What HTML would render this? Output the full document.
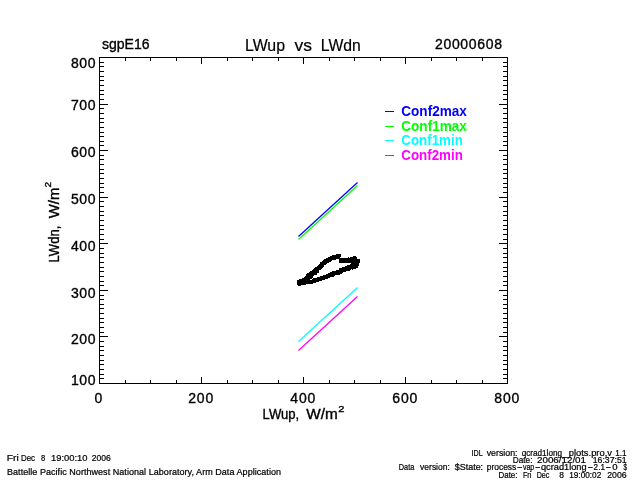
<!DOCTYPE html>
<html><head><meta charset="utf-8"><title>LWup vs LWdn</title>
<style>
html,body{margin:0;padding:0;background:#fff;}
body{width:640px;height:480px;overflow:hidden;}
svg{display:block;will-change:transform;}
svg text{font-family:'Liberation Sans',sans-serif;stroke-width:0.35px;}
</style></head><body>
<svg width="640" height="480" viewBox="0 0 640 480">
<rect x="0" y="0" width="640" height="480" fill="#fff"/>
<g shape-rendering="crispEdges">
<rect x="99" y="57" width="409" height="1" fill="#000"/>
<rect x="99" y="383" width="409" height="1" fill="#000"/>
<rect x="99" y="57" width="1" height="327" fill="#000"/>
<rect x="507" y="57" width="1" height="327" fill="#000"/>
<rect x="99" y="58" width="1" height="6" fill="#000"/>
<rect x="99" y="377" width="1" height="6" fill="#000"/>
<rect x="125" y="58" width="1" height="3" fill="#000"/>
<rect x="125" y="380" width="1" height="3" fill="#000"/>
<rect x="150" y="58" width="1" height="3" fill="#000"/>
<rect x="150" y="380" width="1" height="3" fill="#000"/>
<rect x="176" y="58" width="1" height="3" fill="#000"/>
<rect x="176" y="380" width="1" height="3" fill="#000"/>
<rect x="201" y="58" width="1" height="6" fill="#000"/>
<rect x="201" y="377" width="1" height="6" fill="#000"/>
<rect x="227" y="58" width="1" height="3" fill="#000"/>
<rect x="227" y="380" width="1" height="3" fill="#000"/>
<rect x="252" y="58" width="1" height="3" fill="#000"/>
<rect x="252" y="380" width="1" height="3" fill="#000"/>
<rect x="278" y="58" width="1" height="3" fill="#000"/>
<rect x="278" y="380" width="1" height="3" fill="#000"/>
<rect x="303" y="58" width="1" height="6" fill="#000"/>
<rect x="303" y="377" width="1" height="6" fill="#000"/>
<rect x="329" y="58" width="1" height="3" fill="#000"/>
<rect x="329" y="380" width="1" height="3" fill="#000"/>
<rect x="354" y="58" width="1" height="3" fill="#000"/>
<rect x="354" y="380" width="1" height="3" fill="#000"/>
<rect x="380" y="58" width="1" height="3" fill="#000"/>
<rect x="380" y="380" width="1" height="3" fill="#000"/>
<rect x="405" y="58" width="1" height="6" fill="#000"/>
<rect x="405" y="377" width="1" height="6" fill="#000"/>
<rect x="431" y="58" width="1" height="3" fill="#000"/>
<rect x="431" y="380" width="1" height="3" fill="#000"/>
<rect x="456" y="58" width="1" height="3" fill="#000"/>
<rect x="456" y="380" width="1" height="3" fill="#000"/>
<rect x="482" y="58" width="1" height="3" fill="#000"/>
<rect x="482" y="380" width="1" height="3" fill="#000"/>
<rect x="507" y="58" width="1" height="6" fill="#000"/>
<rect x="507" y="377" width="1" height="6" fill="#000"/>
<rect x="100" y="383" width="8" height="1" fill="#000"/>
<rect x="499" y="383" width="8" height="1" fill="#000"/>
<rect x="100" y="378" width="4" height="1" fill="#000"/>
<rect x="503" y="378" width="4" height="1" fill="#000"/>
<rect x="100" y="374" width="4" height="1" fill="#000"/>
<rect x="503" y="374" width="4" height="1" fill="#000"/>
<rect x="100" y="369" width="4" height="1" fill="#000"/>
<rect x="503" y="369" width="4" height="1" fill="#000"/>
<rect x="100" y="364" width="4" height="1" fill="#000"/>
<rect x="503" y="364" width="4" height="1" fill="#000"/>
<rect x="100" y="360" width="4" height="1" fill="#000"/>
<rect x="503" y="360" width="4" height="1" fill="#000"/>
<rect x="100" y="355" width="4" height="1" fill="#000"/>
<rect x="503" y="355" width="4" height="1" fill="#000"/>
<rect x="100" y="350" width="4" height="1" fill="#000"/>
<rect x="503" y="350" width="4" height="1" fill="#000"/>
<rect x="100" y="346" width="4" height="1" fill="#000"/>
<rect x="503" y="346" width="4" height="1" fill="#000"/>
<rect x="100" y="341" width="4" height="1" fill="#000"/>
<rect x="503" y="341" width="4" height="1" fill="#000"/>
<rect x="100" y="336" width="8" height="1" fill="#000"/>
<rect x="499" y="336" width="8" height="1" fill="#000"/>
<rect x="100" y="332" width="4" height="1" fill="#000"/>
<rect x="503" y="332" width="4" height="1" fill="#000"/>
<rect x="100" y="327" width="4" height="1" fill="#000"/>
<rect x="503" y="327" width="4" height="1" fill="#000"/>
<rect x="100" y="322" width="4" height="1" fill="#000"/>
<rect x="503" y="322" width="4" height="1" fill="#000"/>
<rect x="100" y="318" width="4" height="1" fill="#000"/>
<rect x="503" y="318" width="4" height="1" fill="#000"/>
<rect x="100" y="313" width="4" height="1" fill="#000"/>
<rect x="503" y="313" width="4" height="1" fill="#000"/>
<rect x="100" y="308" width="4" height="1" fill="#000"/>
<rect x="503" y="308" width="4" height="1" fill="#000"/>
<rect x="100" y="304" width="4" height="1" fill="#000"/>
<rect x="503" y="304" width="4" height="1" fill="#000"/>
<rect x="100" y="299" width="4" height="1" fill="#000"/>
<rect x="503" y="299" width="4" height="1" fill="#000"/>
<rect x="100" y="295" width="4" height="1" fill="#000"/>
<rect x="503" y="295" width="4" height="1" fill="#000"/>
<rect x="100" y="290" width="8" height="1" fill="#000"/>
<rect x="499" y="290" width="8" height="1" fill="#000"/>
<rect x="100" y="285" width="4" height="1" fill="#000"/>
<rect x="503" y="285" width="4" height="1" fill="#000"/>
<rect x="100" y="281" width="4" height="1" fill="#000"/>
<rect x="503" y="281" width="4" height="1" fill="#000"/>
<rect x="100" y="276" width="4" height="1" fill="#000"/>
<rect x="503" y="276" width="4" height="1" fill="#000"/>
<rect x="100" y="271" width="4" height="1" fill="#000"/>
<rect x="503" y="271" width="4" height="1" fill="#000"/>
<rect x="100" y="267" width="4" height="1" fill="#000"/>
<rect x="503" y="267" width="4" height="1" fill="#000"/>
<rect x="100" y="262" width="4" height="1" fill="#000"/>
<rect x="503" y="262" width="4" height="1" fill="#000"/>
<rect x="100" y="257" width="4" height="1" fill="#000"/>
<rect x="503" y="257" width="4" height="1" fill="#000"/>
<rect x="100" y="253" width="4" height="1" fill="#000"/>
<rect x="503" y="253" width="4" height="1" fill="#000"/>
<rect x="100" y="248" width="4" height="1" fill="#000"/>
<rect x="503" y="248" width="4" height="1" fill="#000"/>
<rect x="100" y="243" width="8" height="1" fill="#000"/>
<rect x="499" y="243" width="8" height="1" fill="#000"/>
<rect x="100" y="239" width="4" height="1" fill="#000"/>
<rect x="503" y="239" width="4" height="1" fill="#000"/>
<rect x="100" y="234" width="4" height="1" fill="#000"/>
<rect x="503" y="234" width="4" height="1" fill="#000"/>
<rect x="100" y="229" width="4" height="1" fill="#000"/>
<rect x="503" y="229" width="4" height="1" fill="#000"/>
<rect x="100" y="225" width="4" height="1" fill="#000"/>
<rect x="503" y="225" width="4" height="1" fill="#000"/>
<rect x="100" y="220" width="4" height="1" fill="#000"/>
<rect x="503" y="220" width="4" height="1" fill="#000"/>
<rect x="100" y="215" width="4" height="1" fill="#000"/>
<rect x="503" y="215" width="4" height="1" fill="#000"/>
<rect x="100" y="211" width="4" height="1" fill="#000"/>
<rect x="503" y="211" width="4" height="1" fill="#000"/>
<rect x="100" y="206" width="4" height="1" fill="#000"/>
<rect x="503" y="206" width="4" height="1" fill="#000"/>
<rect x="100" y="201" width="4" height="1" fill="#000"/>
<rect x="503" y="201" width="4" height="1" fill="#000"/>
<rect x="100" y="197" width="8" height="1" fill="#000"/>
<rect x="499" y="197" width="8" height="1" fill="#000"/>
<rect x="100" y="192" width="4" height="1" fill="#000"/>
<rect x="503" y="192" width="4" height="1" fill="#000"/>
<rect x="100" y="187" width="4" height="1" fill="#000"/>
<rect x="503" y="187" width="4" height="1" fill="#000"/>
<rect x="100" y="183" width="4" height="1" fill="#000"/>
<rect x="503" y="183" width="4" height="1" fill="#000"/>
<rect x="100" y="178" width="4" height="1" fill="#000"/>
<rect x="503" y="178" width="4" height="1" fill="#000"/>
<rect x="100" y="173" width="4" height="1" fill="#000"/>
<rect x="503" y="173" width="4" height="1" fill="#000"/>
<rect x="100" y="169" width="4" height="1" fill="#000"/>
<rect x="503" y="169" width="4" height="1" fill="#000"/>
<rect x="100" y="164" width="4" height="1" fill="#000"/>
<rect x="503" y="164" width="4" height="1" fill="#000"/>
<rect x="100" y="159" width="4" height="1" fill="#000"/>
<rect x="503" y="159" width="4" height="1" fill="#000"/>
<rect x="100" y="155" width="4" height="1" fill="#000"/>
<rect x="503" y="155" width="4" height="1" fill="#000"/>
<rect x="100" y="150" width="8" height="1" fill="#000"/>
<rect x="499" y="150" width="8" height="1" fill="#000"/>
<rect x="100" y="145" width="4" height="1" fill="#000"/>
<rect x="503" y="145" width="4" height="1" fill="#000"/>
<rect x="100" y="141" width="4" height="1" fill="#000"/>
<rect x="503" y="141" width="4" height="1" fill="#000"/>
<rect x="100" y="136" width="4" height="1" fill="#000"/>
<rect x="503" y="136" width="4" height="1" fill="#000"/>
<rect x="100" y="132" width="4" height="1" fill="#000"/>
<rect x="503" y="132" width="4" height="1" fill="#000"/>
<rect x="100" y="127" width="4" height="1" fill="#000"/>
<rect x="503" y="127" width="4" height="1" fill="#000"/>
<rect x="100" y="122" width="4" height="1" fill="#000"/>
<rect x="503" y="122" width="4" height="1" fill="#000"/>
<rect x="100" y="118" width="4" height="1" fill="#000"/>
<rect x="503" y="118" width="4" height="1" fill="#000"/>
<rect x="100" y="113" width="4" height="1" fill="#000"/>
<rect x="503" y="113" width="4" height="1" fill="#000"/>
<rect x="100" y="108" width="4" height="1" fill="#000"/>
<rect x="503" y="108" width="4" height="1" fill="#000"/>
<rect x="100" y="104" width="8" height="1" fill="#000"/>
<rect x="499" y="104" width="8" height="1" fill="#000"/>
<rect x="100" y="99" width="4" height="1" fill="#000"/>
<rect x="503" y="99" width="4" height="1" fill="#000"/>
<rect x="100" y="94" width="4" height="1" fill="#000"/>
<rect x="503" y="94" width="4" height="1" fill="#000"/>
<rect x="100" y="90" width="4" height="1" fill="#000"/>
<rect x="503" y="90" width="4" height="1" fill="#000"/>
<rect x="100" y="85" width="4" height="1" fill="#000"/>
<rect x="503" y="85" width="4" height="1" fill="#000"/>
<rect x="100" y="80" width="4" height="1" fill="#000"/>
<rect x="503" y="80" width="4" height="1" fill="#000"/>
<rect x="100" y="76" width="4" height="1" fill="#000"/>
<rect x="503" y="76" width="4" height="1" fill="#000"/>
<rect x="100" y="71" width="4" height="1" fill="#000"/>
<rect x="503" y="71" width="4" height="1" fill="#000"/>
<rect x="100" y="66" width="4" height="1" fill="#000"/>
<rect x="503" y="66" width="4" height="1" fill="#000"/>
<rect x="100" y="62" width="4" height="1" fill="#000"/>
<rect x="503" y="62" width="4" height="1" fill="#000"/>
<rect x="100" y="57" width="8" height="1" fill="#000"/>
<rect x="499" y="57" width="8" height="1" fill="#000"/>
<rect x="385" y="111" width="9" height="1" fill="#0000ff"/>
<rect x="385" y="126" width="9" height="1" fill="#00ff00"/>
<rect x="385" y="140" width="9" height="1" fill="#00ffff"/>
<rect x="385" y="155" width="9" height="1" fill="#ff00ff"/>
</g>
<g>
<line x1="298.5" y1="236.5" x2="357.5" y2="182.5" stroke="#0000ff" stroke-width="1.25" stroke-linecap="butt"/>
<line x1="298.5" y1="239.5" x2="357.5" y2="185.5" stroke="#00ff00" stroke-width="1.25" stroke-linecap="butt"/>
<line x1="298.5" y1="341.5" x2="357.5" y2="287.5" stroke="#00ffff" stroke-width="1.25" stroke-linecap="butt"/>
<line x1="298.5" y1="350.5" x2="357.5" y2="296.5" stroke="#ff00ff" stroke-width="1.25" stroke-linecap="butt"/>
</g>
<path fill="#000" shape-rendering="crispEdges" d="M297 280h1v5h-1zM298 280h1v6h-1zM299 279h1v7h-1zM300 279h1v7h-1zM301 279h1v6h-1zM302 278h1v7h-1zM303 278h1v7h-1zM304 277h1v8h-1zM305 276h1v9h-1zM306 274h1v10h-1zM307 273h1v11h-1zM308 273h1v11h-1zM309 272h1v12h-1zM310 271h1v8h-1zM310 280h1v4h-1zM311 271h1v8h-1zM311 280h1v4h-1zM312 270h1v8h-1zM312 279h1v5h-1zM313 269h1v7h-1zM313 278h1v5h-1zM314 268h1v7h-1zM314 278h1v5h-1zM315 267h1v8h-1zM315 278h1v5h-1zM316 267h1v8h-1zM316 278h1v4h-1zM317 266h1v7h-1zM317 277h1v5h-1zM318 265h1v8h-1zM318 277h1v5h-1zM319 264h1v6h-1zM319 277h1v4h-1zM320 262h1v8h-1zM320 276h1v5h-1zM321 262h1v7h-1zM321 276h1v5h-1zM322 261h1v7h-1zM322 276h1v4h-1zM323 260h1v7h-1zM323 275h1v5h-1zM324 259h1v6h-1zM324 275h1v5h-1zM325 259h1v6h-1zM325 275h1v4h-1zM326 258h1v6h-1zM326 274h1v5h-1zM327 258h1v5h-1zM327 274h1v5h-1zM328 257h1v6h-1zM328 273h1v5h-1zM329 257h1v5h-1zM329 273h1v5h-1zM330 256h1v6h-1zM330 272h1v5h-1zM331 256h1v5h-1zM331 272h1v5h-1zM332 255h1v5h-1zM332 271h1v6h-1zM333 255h1v5h-1zM333 271h1v6h-1zM334 255h1v5h-1zM334 271h1v5h-1zM335 255h1v5h-1zM335 271h1v4h-1zM336 254h1v5h-1zM336 270h1v5h-1zM337 254h1v5h-1zM337 270h1v5h-1zM338 254h1v5h-1zM338 270h1v5h-1zM339 254h1v9h-1zM339 268h1v7h-1zM340 254h1v3h-1zM340 258h1v5h-1zM340 268h1v6h-1zM341 258h1v5h-1zM341 268h1v6h-1zM342 258h1v5h-1zM342 267h1v6h-1zM343 258h1v5h-1zM343 267h1v5h-1zM344 258h1v5h-1zM344 267h1v5h-1zM345 258h1v5h-1zM345 266h1v6h-1zM346 258h1v5h-1zM346 266h1v5h-1zM347 258h1v5h-1zM347 265h1v6h-1zM348 257h1v6h-1zM348 265h1v6h-1zM349 258h1v5h-1zM349 265h1v6h-1zM350 257h1v6h-1zM350 264h1v6h-1zM351 257h1v12h-1zM352 257h1v13h-1zM353 256h1v13h-1zM354 256h1v13h-1zM355 256h1v13h-1zM356 257h1v11h-1zM357 259h1v9h-1zM358 259h1v7h-1zM359 259h1v4h-1z"/>
<g>
<text x="102" y="49" font-size="14" text-anchor="start" fill="#000" stroke="#000" font-weight="normal" textLength="47.5" lengthAdjust="spacing">sgpE16</text>
<text y="50.8" font-size="17" stroke="#000" style="stroke-width:0.2px"><tspan x="245" textLength="40" lengthAdjust="spacingAndGlyphs">LWup</tspan> <tspan x="294.5" textLength="17.5" lengthAdjust="spacingAndGlyphs">vs</tspan> <tspan x="320.8" textLength="40" lengthAdjust="spacingAndGlyphs">LWdn</tspan></text>
<text x="435" y="49" font-size="14" text-anchor="start" fill="#000" stroke="#000" font-weight="normal" textLength="67" lengthAdjust="spacing">20000608</text>
<text x="71" y="68" font-size="14" text-anchor="start" fill="#000" stroke="#000" font-weight="normal" textLength="24.5" lengthAdjust="spacing">800</text>
<text x="71" y="110" font-size="14" text-anchor="start" fill="#000" stroke="#000" font-weight="normal" textLength="24.5" lengthAdjust="spacing">700</text>
<text x="71" y="157" font-size="14" text-anchor="start" fill="#000" stroke="#000" font-weight="normal" textLength="24.5" lengthAdjust="spacing">600</text>
<text x="71" y="204" font-size="14" text-anchor="start" fill="#000" stroke="#000" font-weight="normal" textLength="24.5" lengthAdjust="spacing">500</text>
<text x="71" y="251" font-size="14" text-anchor="start" fill="#000" stroke="#000" font-weight="normal" textLength="24.5" lengthAdjust="spacing">400</text>
<text x="71" y="297.5" font-size="14" text-anchor="start" fill="#000" stroke="#000" font-weight="normal" textLength="24.5" lengthAdjust="spacing">300</text>
<text x="71" y="344" font-size="14" text-anchor="start" fill="#000" stroke="#000" font-weight="normal" textLength="24.5" lengthAdjust="spacing">200</text>
<text x="71" y="384.6" font-size="14" text-anchor="start" fill="#000" stroke="#000" font-weight="normal" textLength="24.5" lengthAdjust="spacing">100</text>
<text x="94.5" y="403" font-size="14" text-anchor="start" fill="#000" stroke="#000" font-weight="normal">0</text>
<text x="188.2" y="403" font-size="14" text-anchor="start" fill="#000" stroke="#000" font-weight="normal" textLength="25" lengthAdjust="spacing">200</text>
<text x="290.3" y="403" font-size="14" text-anchor="start" fill="#000" stroke="#000" font-weight="normal" textLength="25" lengthAdjust="spacing">400</text>
<text x="392.3" y="403" font-size="14" text-anchor="start" fill="#000" stroke="#000" font-weight="normal" textLength="25" lengthAdjust="spacing">600</text>
<text x="494.3" y="403" font-size="14" text-anchor="start" fill="#000" stroke="#000" font-weight="normal" textLength="25" lengthAdjust="spacing">800</text>
<text y="419" font-size="14" stroke="#000"><tspan x="262.6" textLength="36.6" lengthAdjust="spacingAndGlyphs">LWup,</tspan> <tspan x="306.3" textLength="31.5" lengthAdjust="spacingAndGlyphs">W/m</tspan><tspan x="338.2" dy="-6.6" font-size="9.5" textLength="6.2" lengthAdjust="spacingAndGlyphs">2</tspan></text>
<text transform="translate(58.5,262.2) rotate(-90)" y="0" font-size="14" stroke="#000"><tspan x="-0.3" textLength="36.8" lengthAdjust="spacingAndGlyphs">LWdn,</tspan> <tspan x="44" textLength="30.6" lengthAdjust="spacingAndGlyphs">W/m</tspan><tspan x="74.8" dy="-7.2" font-size="9.5" textLength="5.6" lengthAdjust="spacingAndGlyphs">2</tspan></text>
<text x="401.3" y="116" font-size="14.5" font-weight="bold" fill="#0000ff" stroke="none" textLength="65.5" lengthAdjust="spacingAndGlyphs">Conf2max</text>
<text x="401.3" y="131" font-size="14.5" font-weight="bold" fill="#00ff00" stroke="none" textLength="65.5" lengthAdjust="spacingAndGlyphs">Conf1max</text>
<text x="401.3" y="145" font-size="14.5" font-weight="bold" fill="#00ffff" stroke="none" textLength="61.5" lengthAdjust="spacingAndGlyphs">Conf1min</text>
<text x="401.3" y="159.5" font-size="14.5" font-weight="bold" fill="#ff00ff" stroke="none" textLength="61.5" lengthAdjust="spacingAndGlyphs">Conf2min</text>
<text x="7" y="475" font-size="9" text-anchor="start" fill="#000" stroke="#000" font-weight="normal" textLength="274" lengthAdjust="spacing" style="stroke-width:0.22px">Battelle Pacific Northwest National Laboratory, Arm Data Application</text>
<text y="456" font-size="8.7" fill="#000" stroke="#000" font-weight="normal" style="stroke-width:0.22px"><tspan x="471.6" textLength="10.8" lengthAdjust="spacingAndGlyphs">IDL</tspan> <tspan x="486.7" textLength="30.8" lengthAdjust="spacingAndGlyphs">version:</tspan> <tspan x="521.7" textLength="40.3" lengthAdjust="spacingAndGlyphs">qcrad1long</tspan><tspan x="562.0" textLength="6.75" lengthAdjust="spacingAndGlyphs">_</tspan><tspan x="568.75" textLength="43.25" lengthAdjust="spacingAndGlyphs">plots.pro,v</tspan> <tspan x="615.3" textLength="11.3" lengthAdjust="spacingAndGlyphs">1.1</tspan></text>
<text y="463.2" font-size="8.7" fill="#000" stroke="#000" font-weight="normal" style="stroke-width:0.22px"><tspan x="512.8" textLength="19.7" lengthAdjust="spacingAndGlyphs">Date:</tspan> <tspan x="537.0" textLength="49.0" lengthAdjust="spacingAndGlyphs">2006/12/01</tspan> <tspan x="592.8" textLength="33.8" lengthAdjust="spacingAndGlyphs">16:37:51</tspan></text>
<text y="470.4" font-size="8.7" fill="#000" stroke="#000" font-weight="normal" style="stroke-width:0.22px"><tspan x="398.8" textLength="15.5" lengthAdjust="spacingAndGlyphs">Data</tspan> <tspan x="420.1" textLength="29.7" lengthAdjust="spacingAndGlyphs">version:</tspan> <tspan x="454.8" textLength="28.3" lengthAdjust="spacingAndGlyphs">$State:</tspan> <tspan x="486.7" textLength="29.6" lengthAdjust="spacingAndGlyphs">process</tspan><tspan x="516.9" textLength="5.6" lengthAdjust="spacingAndGlyphs">-</tspan><tspan x="523.0" textLength="11.2" lengthAdjust="spacingAndGlyphs">vap</tspan><tspan x="535.0" textLength="5.6" lengthAdjust="spacingAndGlyphs">-</tspan><tspan x="541.0" textLength="45.6" lengthAdjust="spacingAndGlyphs">qcrad1long</tspan><tspan x="587.5" textLength="5.6" lengthAdjust="spacingAndGlyphs">-</tspan><tspan x="593.6" textLength="11.4" lengthAdjust="spacingAndGlyphs">2.1</tspan><tspan x="605.6" textLength="5.65" lengthAdjust="spacingAndGlyphs">-</tspan><tspan x="612.3" textLength="5.3" lengthAdjust="spacingAndGlyphs">0</tspan> <tspan x="623.6" textLength="3.4" lengthAdjust="spacingAndGlyphs">$</tspan></text>
<text y="477.6" font-size="8.7" fill="#000" stroke="#000" font-weight="normal" style="stroke-width:0.22px"><tspan x="498.5" textLength="19.0" lengthAdjust="spacingAndGlyphs">Date:</tspan> <tspan x="522.9" textLength="8.4" lengthAdjust="spacingAndGlyphs">Fri</tspan> <tspan x="536.7" textLength="12.7" lengthAdjust="spacingAndGlyphs">Dec</tspan>&#160; <tspan x="559.2" textLength="4.7" lengthAdjust="spacingAndGlyphs">8</tspan> <tspan x="569.2" textLength="32.1" lengthAdjust="spacingAndGlyphs">19:00:02</tspan> <tspan x="607.3" textLength="19.3" lengthAdjust="spacingAndGlyphs">2006</tspan></text>
<text y="461" font-size="9" fill="#000" stroke="#000" font-weight="normal" style="stroke-width:0.22px"><tspan x="6.8" textLength="11.95" lengthAdjust="spacingAndGlyphs">Fri</tspan> <tspan x="21.0" textLength="14.0" lengthAdjust="spacingAndGlyphs">Dec</tspan>&#160; <tspan x="41.0" textLength="4.2" lengthAdjust="spacingAndGlyphs">8</tspan> <tspan x="51.0" textLength="36.5" lengthAdjust="spacingAndGlyphs">19:00:10</tspan> <tspan x="91.8" textLength="19.1" lengthAdjust="spacingAndGlyphs">2006</tspan></text>
</g>
</svg>
</body></html>
